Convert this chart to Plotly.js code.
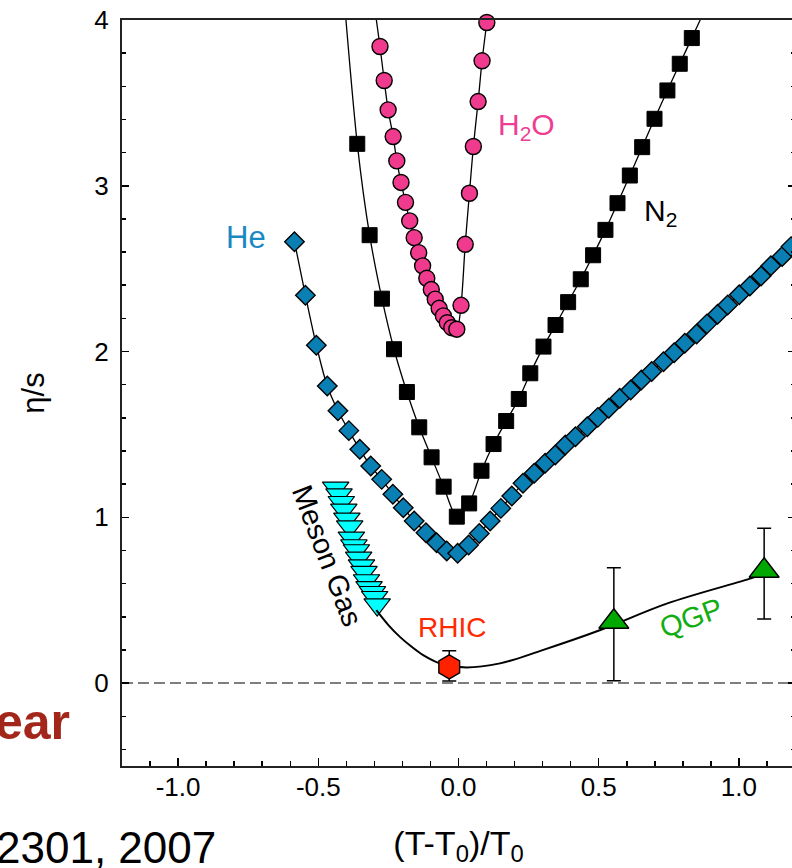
<!DOCTYPE html>
<html>
<head>
<meta charset="utf-8">
<script src="https://cdn.plot.ly/plotly-3.0.1.min.js"></script>
<style>
html,body{margin:0;padding:0;overflow:hidden;background:#fff;}
#chart{width:796px;height:868px;}
</style>
</head>
<body>
<div id="chart"></div>
<script>
// ---- data ----
var H2O_x = [-0.317, -0.28, -0.265, -0.251, -0.233, -0.22, -0.205, -0.189, -0.174, -0.158, -0.142, -0.128, -0.113, -0.097, -0.083, -0.069, -0.054, -0.04, -0.024, -0.006, 0.009, 0.024, 0.039, 0.053, 0.07, 0.084, 0.101];
var H2O_y = [4.3, 3.84, 3.635, 3.458, 3.297, 3.15, 3.02, 2.90, 2.788, 2.687, 2.597, 2.517, 2.442, 2.374, 2.316, 2.261, 2.215, 2.174, 2.144, 2.135, 2.279, 2.647, 2.955, 3.237, 3.508, 3.754, 3.985];

var N2_x = [-0.421, -0.361, -0.317, -0.273, -0.23, -0.184, -0.14, -0.096, -0.053, -0.006, 0.038, 0.082, 0.125, 0.17, 0.215, 0.256, 0.303, 0.346, 0.391, 0.436, 0.48, 0.524, 0.567, 0.611, 0.655, 0.699, 0.745, 0.789, 0.832, 0.9];
var N2_y = [4.4, 3.253, 2.702, 2.319, 2.014, 1.756, 1.543, 1.362, 1.185, 1.004, 1.084, 1.281, 1.442, 1.581, 1.714, 1.869, 2.03, 2.16, 2.298, 2.436, 2.581, 2.734, 2.895, 3.062, 3.233, 3.404, 3.575, 3.736, 3.891, 4.14];

var He_x = [-0.585, -0.546, -0.507, -0.468, -0.43, -0.391, -0.352, -0.313, -0.274, -0.234, -0.197, -0.158, -0.116, -0.078, -0.042, -0.003, 0.036, 0.074, 0.113, 0.151, 0.19, 0.23, 0.27, 0.309, 0.345, 0.381, 0.417, 0.459, 0.497, 0.536, 0.575, 0.614, 0.652, 0.689, 0.731, 0.769, 0.807, 0.849, 0.886, 0.924, 0.96, 1.001, 1.039, 1.079, 1.114, 1.154, 1.186, 1.225];
var He_y = [2.663, 2.34, 2.038, 1.792, 1.643, 1.523, 1.41, 1.31, 1.229, 1.139, 1.058, 0.978, 0.907, 0.847, 0.797, 0.783, 0.833, 0.903, 0.978, 1.054, 1.129, 1.205, 1.266, 1.326, 1.376, 1.436, 1.486, 1.547, 1.603, 1.658, 1.718, 1.768, 1.829, 1.879, 1.939, 1.993, 2.05, 2.106, 2.167, 2.225, 2.281, 2.342, 2.396, 2.456, 2.517, 2.573, 2.633, 2.69];

var Meson_x = [-0.438, -0.426, -0.418, -0.409, -0.398, -0.388, -0.382, -0.373, -0.364, -0.356, -0.346, -0.337, -0.328, -0.319, -0.307, -0.299, -0.29];
var Meson_y = [1.178, 1.137, 1.091, 1.045, 0.991, 0.944, 0.876, 0.830, 0.800, 0.755, 0.709, 0.669, 0.619, 0.578, 0.548, 0.518, 0.474];

var fit_x = [-0.293, -0.25, -0.209, -0.167, -0.126, -0.066, 0.017, 0.148, 0.3, 0.506, 0.745, 1.043, 1.09];
var fit_y = [0.44, 0.35, 0.279, 0.219, 0.169, 0.119, 0.095, 0.119, 0.199, 0.32, 0.481, 0.632, 0.66];

var RHIC_x = [-0.033];
var RHIC_y = [0.098];
var RHIC_errPlus = [0.097];
var RHIC_errMinus = [0.086];

var QGP_x = [0.554, 1.09];
var QGP_y = [0.37, 0.678];
var QGP_errPlus = [0.326, 0.256];
var QGP_errMinus = [0.356, 0.292];

var xTickVals = [-1.0, -0.5, 0.0, 0.5, 1.0];
var xTickText = ['-1.0', '-0.5', '0.0', '0.5', '1.0'];
var yTickVals = [0, 1, 2, 3, 4];
var yTickText = ['0', '1', '2', '3', '4'];

// ---- drawing ----
var FONT = 'Liberation Sans, Arial, Helvetica, sans-serif';
var lineStyle = {color: '#000', width: 1.3, shape: 'spline', smoothing: 0.8};

var traces = [
  {x: H2O_x, y: H2O_y, mode: 'lines+markers', cliponaxis: false, line: lineStyle,
   marker: {symbol: 'circle', size: 16, color: '#ef3a8e', line: {color: '#000', width: 1.4}}},
  {x: N2_x, y: N2_y, mode: 'lines+markers', line: lineStyle,
   marker: {symbol: 'square', size: 15, color: '#000', line: {color: '#000', width: 1}}},
  {x: He_x, y: He_y, mode: 'lines+markers', line: lineStyle,
   marker: {symbol: 'diamond', size: 15, color: '#0a7fb3', line: {color: '#000', width: 1.4}}},
  {x: Meson_x, y: Meson_y, mode: 'markers',
   marker: {symbol: 'triangle-down', size: 23, color: '#00ffff', line: {color: '#000', width: 1.2}}},
  {x: fit_x, y: fit_y, mode: 'lines', line: {color: '#000', width: 2, shape: 'spline', smoothing: 1}},
  {x: RHIC_x, y: RHIC_y, mode: 'markers',
   error_y: {type: 'data', symmetric: false, array: RHIC_errPlus, arrayminus: RHIC_errMinus, color: '#000', thickness: 1.5, width: 7},
   marker: {symbol: 'hexagon', size: 24, color: '#ff2200', line: {color: '#000', width: 1.4}}},
  {x: QGP_x, y: QGP_y, mode: 'markers',
   error_y: {type: 'data', symmetric: false, array: QGP_errPlus, arrayminus: QGP_errMinus, color: '#000', thickness: 1.5, width: 7},
   marker: {symbol: 'triangle-up', size: 26, color: '#00a800', line: {color: '#000', width: 1.4}}}
];

var layout = {
  width: 796, height: 868,
  margin: {l: 122, r: 1, t: 20, b: 102},
  paper_bgcolor: '#fff', plot_bgcolor: '#fff',
  showlegend: false,
  font: {family: FONT, color: '#000', size: 26},
  xaxis: {
    range: [-1.2, 1.2], tickmode: 'array', tickvals: xTickVals, ticktext: xTickText,
    ticks: 'inside', ticklen: 8, tickwidth: 1.5, tickcolor: '#000',
    minor: {dtick: 0.1, tick0: 0, ticks: 'inside', ticklen: 5, tickwidth: 1.5, tickcolor: '#000', showgrid: false},
    showgrid: false, zeroline: false, showline: true, linecolor: '#222', linewidth: 2, mirror: true,
    tickfont: {size: 26, family: FONT}, ticklabelstandoff: -3,
    title: {text: '(T-T<sub>0</sub>)/T<sub>0</sub>', font: {size: 34, family: FONT}, standoff: 30}
  },
  yaxis: {
    range: [-0.5, 4], tickmode: 'array', tickvals: yTickVals, ticktext: yTickText,
    ticks: 'inside', ticklen: 7, tickwidth: 1.5, tickcolor: '#000',
    minor: {dtick: 0.2, tick0: 0, ticks: 'inside', ticklen: 4, tickwidth: 1.5, tickcolor: '#000', showgrid: false},
    showgrid: false, zeroline: false, showline: true, linecolor: '#222', linewidth: 2, mirror: 'ticks',
    tickfont: {size: 26, family: FONT}, ticklabelstandoff: 6,
    title: {text: 'η/s', font: {size: 31, family: FONT}, standoff: 40}
  },
  shapes: [
    {type: 'line', xref: 'paper', x0: 0, x1: 1, yref: 'y', y0: 0, y1: 0,
     line: {color: '#555', width: 1.5, dash: '11px,5px'}, layer: 'below'}
  ],
  annotations: [
    {text: 'He', x: -0.757, y: 2.69, xref: 'x', yref: 'y', showarrow: false, font: {size: 31, color: '#1a88c2', family: FONT}},
    {text: 'H<sub>2</sub>O', x: 0.2415, y: 3.36, xref: 'x', yref: 'y', showarrow: false, font: {size: 30, color: '#ee3d92', family: FONT}},
    {text: 'N<sub>2</sub>', x: 0.719, y: 2.84, xref: 'x', yref: 'y', showarrow: false, font: {size: 30, color: '#000', family: FONT}},
    {text: 'Meson Gas', x: -0.47, y: 0.77, xref: 'x', yref: 'y', showarrow: false, textangle: 69, font: {size: 29, color: '#000', family: FONT}},
    {text: 'RHIC', x: -0.0215, y: 0.338, xref: 'x', yref: 'y', showarrow: false, font: {size: 28, color: '#ff2a00', family: FONT}},
    {text: 'QGP', x: 0.828, y: 0.39, xref: 'x', yref: 'y', showarrow: false, textangle: -20, font: {size: 29, color: '#12ad12', family: FONT}},
    {text: '<b>ear</b>', x: -0.0743, y: 0.059, xref: 'paper', yref: 'paper', xanchor: 'right', yanchor: 'middle', showarrow: false, font: {size: 50, color: '#a3261a', family: FONT}},
    {text: '2301, 2007', x: 0.1426, y: -0.109, xref: 'paper', yref: 'paper', xanchor: 'right', yanchor: 'middle', showarrow: false, font: {size: 44, color: '#000', family: FONT}}
  ]
};

Plotly.newPlot('chart', traces, layout, {staticPlot: true, displayModeBar: false});
</script>
</body>
</html>
